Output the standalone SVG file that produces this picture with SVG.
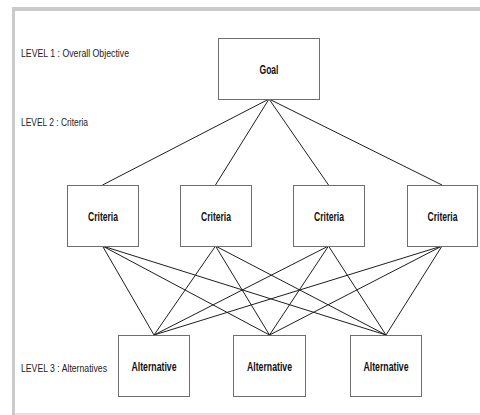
<svg xmlns="http://www.w3.org/2000/svg" width="480" height="415" viewBox="0 0 480 415">
  <style>
    .box { fill: #ffffff; stroke: #6e6e6e; stroke-width: 1; }
    .lbl { font-family: "Liberation Sans", Arial, sans-serif; font-weight: bold; font-size: 13px; fill: #111111; text-anchor: middle; }
    .lvl { font-family: "Liberation Sans", Arial, sans-serif; font-size: 11px; fill: #222222; }
    .edge { stroke: #1e1e1e; stroke-width: 1; fill: none; }
  </style>

  <!-- page frame -->
  <rect x="0" y="0" width="480" height="415" fill="#ffffff"/>
  <rect x="12" y="7" width="468" height="4" fill="#cbcbcb"/>
  <rect x="12" y="7" width="3" height="408" fill="#cbcbcb"/>
  <rect x="15" y="413" width="465" height="2" fill="#e4e4e4"/>

  <!-- level captions -->
  <text class="lvl" x="21" y="57" textLength="108" lengthAdjust="spacingAndGlyphs">LEVEL 1 : Overall Objective</text>
  <text class="lvl" x="21" y="126" textLength="67" lengthAdjust="spacingAndGlyphs">LEVEL 2 : Criteria</text>
  <text class="lvl" x="21" y="372" textLength="86" lengthAdjust="spacingAndGlyphs">LEVEL 3 : Alternatives</text>

  <!-- connectors -->
  <g id="connectors">
    <line class="edge" x1="269" y1="99" x2="102.5" y2="185"/>
    <line class="edge" x1="269" y1="99" x2="215.5" y2="185"/>
    <line class="edge" x1="269" y1="99" x2="328.5" y2="185"/>
    <line class="edge" x1="269" y1="99" x2="442" y2="185"/>

    <line class="edge" x1="102.5" y1="246" x2="154" y2="335"/>
    <line class="edge" x1="102.5" y1="246" x2="269.5" y2="335"/>
    <line class="edge" x1="102.5" y1="246" x2="386" y2="335"/>
    <line class="edge" x1="215.5" y1="246" x2="154" y2="335"/>
    <line class="edge" x1="215.5" y1="246" x2="269.5" y2="335"/>
    <line class="edge" x1="215.5" y1="246" x2="386" y2="335"/>
    <line class="edge" x1="328.5" y1="246" x2="154" y2="335"/>
    <line class="edge" x1="328.5" y1="246" x2="269.5" y2="335"/>
    <line class="edge" x1="328.5" y1="246" x2="386" y2="335"/>
    <line class="edge" x1="442" y1="246" x2="154" y2="335"/>
    <line class="edge" x1="442" y1="246" x2="269.5" y2="335"/>
    <line class="edge" x1="442" y1="246" x2="386" y2="335"/>
  </g>

  <!-- goal -->
  <g id="goal">
    <rect class="box" x="218.5" y="38.5" width="101" height="61"/>
    <text class="lbl" x="269" y="74" textLength="19" lengthAdjust="spacingAndGlyphs">Goal</text>
  </g>

  <!-- criteria -->
  <g id="criteria-1">
    <rect class="box" x="67.5" y="185.5" width="71" height="61"/>
    <text class="lbl" x="103" y="221" textLength="30" lengthAdjust="spacingAndGlyphs">Criteria</text>
  </g>
  <g id="criteria-2">
    <rect class="box" x="180.5" y="185.5" width="71" height="61"/>
    <text class="lbl" x="216" y="221" textLength="30" lengthAdjust="spacingAndGlyphs">Criteria</text>
  </g>
  <g id="criteria-3">
    <rect class="box" x="293.5" y="185.5" width="71" height="61"/>
    <text class="lbl" x="329" y="221" textLength="30" lengthAdjust="spacingAndGlyphs">Criteria</text>
  </g>
  <g id="criteria-4">
    <rect class="box" x="407.5" y="185.5" width="70" height="61"/>
    <text class="lbl" x="442.5" y="221" textLength="30" lengthAdjust="spacingAndGlyphs">Criteria</text>
  </g>

  <!-- alternatives -->
  <g id="alternative-1">
    <rect class="box" x="118.5" y="335.5" width="71" height="61"/>
    <text class="lbl" x="154" y="371" textLength="45" lengthAdjust="spacingAndGlyphs">Alternative</text>
  </g>
  <g id="alternative-2">
    <rect class="box" x="233.5" y="335.5" width="72" height="61"/>
    <text class="lbl" x="269.5" y="371" textLength="45" lengthAdjust="spacingAndGlyphs">Alternative</text>
  </g>
  <g id="alternative-3">
    <rect class="box" x="350.5" y="335.5" width="71" height="61"/>
    <text class="lbl" x="386" y="371" textLength="45" lengthAdjust="spacingAndGlyphs">Alternative</text>
  </g>
</svg>
